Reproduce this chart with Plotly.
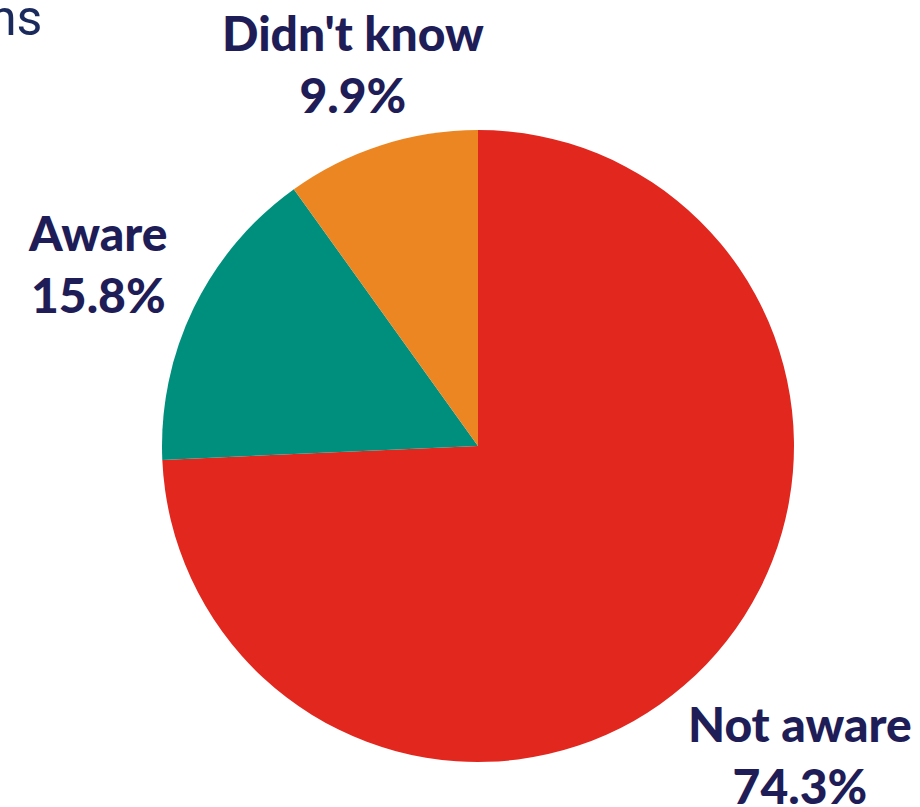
import plotly.graph_objects as go

# Survey responses
categories = ["Not aware", "Aware", "Didn't know"]
shares = [74.3, 15.8, 9.9]
colors = ["#e2271e", "#008f7c", "#ec8622"]

W, H = 920, 807
NAVY = "#1f1d57"
LABEL_FONT = dict(family="Lato, Roboto, sans-serif", size=48, color=NAVY, weight=900)

fig = go.Figure(
    go.Pie(
        labels=categories,
        values=shares,
        sort=False,
        direction="clockwise",
        rotation=0,
        marker=dict(colors=colors, line=dict(width=0)),
        textinfo="none",
        hoverinfo="label+percent",
        showlegend=False,
        domain=dict(x=[162 / W, 794 / W], y=[1 - 762 / H, 1 - 130 / H]),
    )
)

# Label positions (pixel centres) for each slice
label_pos = {
    "Not aware": (800, 754),
    "Aware": (98, 263),
    "Didn't know": (353, 63),
}

annotations = []
for cat, val in zip(categories, shares):
    px, py = label_pos[cat]
    annotations.append(
        dict(
            x=px / W, y=1 - py / H, xref="paper", yref="paper",
            text=f"{cat}<br>{val:.1f}%",
            showarrow=False, xanchor="center", yanchor="middle",
            align="center", font=LABEL_FONT,
        )
    )

# Tail of the heading running off the top-left corner
annotations.append(
    dict(
        x=44 / W, y=1 - 33 / H, xref="paper", yref="paper",
        text="ns", showarrow=False, xanchor="right", yanchor="bottom",
        yshift=-16,
        font=dict(family="Roboto, sans-serif", size=50, color="#1b2a5c"),
    )
)

fig.update_layout(
    width=W, height=H,
    margin=dict(l=0, r=0, t=0, b=0),
    paper_bgcolor="white", plot_bgcolor="white",
    annotations=annotations,
)

fig.write_html("out.html")
